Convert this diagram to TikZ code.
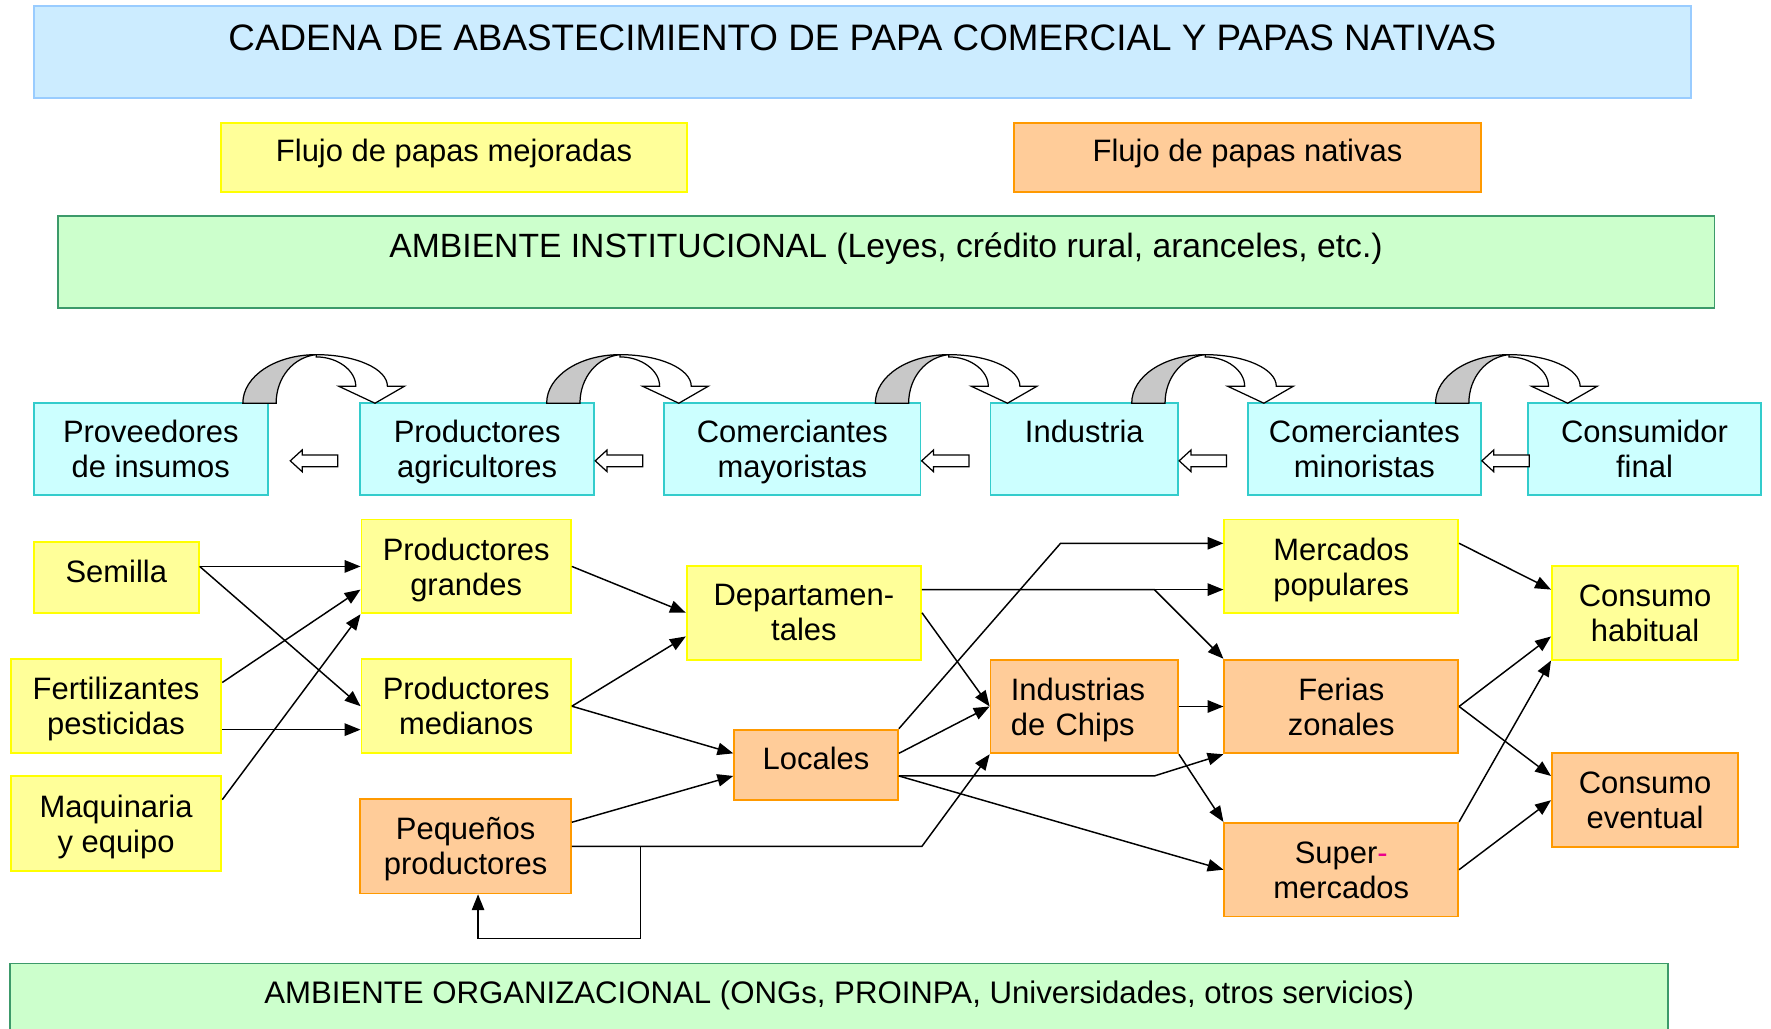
\documentclass[tikz,border=0pt]{standalone}
\usepackage{fontspec}
\setmainfont{Liberation Sans}
\usetikzlibrary{arrows.meta}
\definecolor{celeste}{HTML}{CCECFF}
\definecolor{celesteborde}{HTML}{99CCFF}
\definecolor{amarillofondo}{HTML}{FFFF99}
\definecolor{amarilloborde}{HTML}{FFFF00}
\definecolor{naranjafondo}{HTML}{FFCC99}
\definecolor{naranjaborde}{HTML}{FF9900}
\definecolor{verdefondo}{HTML}{CCFFCC}
\definecolor{verdeborde}{HTML}{3C9A6A}
\definecolor{cianfondo}{HTML}{CCFFFF}
\definecolor{cianborde}{HTML}{33CCCC}
\definecolor{gris}{HTML}{C8C8C8}

\begin{document}
\begin{tikzpicture}[x=1pt, y=-1pt]
        \tikzstyle{every node}=[rectangle, inner sep=0pt, align=center, font=\fontsize{27.4}{31}\selectfont]
        \tikzstyle{amarillo}=[draw=amarilloborde, fill=amarillofondo, line width=1.6pt, text depth=0pt]
        \tikzstyle{naranja}=[draw=naranjaborde, fill=naranjafondo, line width=1.6pt, text depth=0pt]
        \tikzstyle{cian}=[draw=cianborde, fill=cianfondo, line width=1.6pt, minimum height=81pt, text depth=0pt]
        \tikzstyle{verde}=[draw=verdeborde, fill=verdefondo, line width=1.6pt, minimum height=82pt]
        \tikzstyle{unalinea}=[text depth=12pt]
        \tikzstyle{flujo}=[line width=1.3pt, -{Triangle[length=14pt, width=11pt]}]
        \tikzstyle{hueca}=[draw=black, fill=white, line width=1.1pt]
        \clip (0,0) rectangle (1568,911);
        % cabecera
        \node [draw=celesteborde, fill=celeste, line width=1.6pt, minimum width=1467pt, minimum height=82pt, label={[anchor=center, yshift=-29pt, font=\fontsize{32.6}{36}\selectfont]north:{CADENA DE ABASTECIMIENTO DE PAPA COMERCIAL Y PAPAS NATIVAS}}] (titulo) at (763.5,46) {};
        \node [amarillo, minimum width=412pt, minimum height=61pt, label={[anchor=center, yshift=-28pt]north:{Flujo de papas mejoradas}}] (mejoradas) at (402,139.5) {};
        \node [naranja, minimum width=413pt, minimum height=61pt, label={[anchor=center, yshift=-28pt]north:{Flujo de papas nativas}}] (nativas) at (1104.5,139.5) {};
        \node [verde, minimum width=1467pt, label={[anchor=center, yshift=-30pt, font=\fontsize{29.8}{34}\selectfont]north:{AMBIENTE INSTITUCIONAL (Leyes, crédito rural, aranceles, etc.)}}] (institucional) at (784.5,232) {};
        \node [verde, minimum width=1468pt, label={[anchor=center, yshift=-29pt, font=\fontsize{27.6}{31}\selectfont]north:{AMBIENTE ORGANIZACIONAL (ONGs, PROINPA, Universidades, otros servicios)}}] (organizacional) at (743,894) {};
        % eslabones
        \node [cian, minimum width=207pt] (proveedores) at (133.5,397.5) {Proveedores\\de insumos};
        \node [cian, minimum width=207pt] (agricultores) at (422.5,397.5) {Productores\\agricultores};
        \node [cian, minimum width=227pt] (mayoristas) at (701.5,397.5) {Comerciantes\\mayoristas};
        \node [cian, minimum width=166pt] (industria) at (960,397.5) {Industria\\~};
        \node [cian, minimum width=206pt] (minoristas) at (1208,397.5) {Comerciantes\\minoristas};
        \node [cian, minimum width=206pt] (consumidor) at (1456,397.5) {Consumidor\\final};
        \foreach \b in {215,484,775,1002,1271}
        {
            \draw [hueca, fill=gris] (\b,357) .. controls (\b,333) and (\b+29,314) .. (\b+65,314) .. controls (\b+45,316) and (\b+29.5,334) .. (\b+29.5,357) -- cycle;
            \draw [hueca] (\b+65,314) .. controls (\b+100,314) and (\b+128,326.5) .. (\b+128,342) -- (\b+143,342) -- (\b+117,357) -- (\b+85,342) -- (\b+100,342) .. controls (\b+100,328) and (\b+84,316) .. (\b+65,316) -- cycle;
        }
        \foreach \t in {257,527,816,1044,1312}
            \draw [hueca] (\t,408) -- (\t+10.5,398.4) -- (\t+10.5,402.8) -- (\t+42,402.8) -- (\t+42,413.2) -- (\t+10.5,413.2) -- (\t+10.5,417.6) -- cycle;
        % flujo de la papa
        \node [amarillo, unalinea, minimum width=146pt, minimum height=63pt] (semilla) at (103,511.5) {Semilla};
        \node [amarillo, minimum width=186.5pt, minimum height=83.5pt] (fertilizantes) at (102.75,625.25) {Fertilizantes\\pesticidas};
        \node [amarillo, minimum width=186.5pt, minimum height=84pt] (maquinaria) at (102.75,729) {Maquinaria\\y equipo};
        \node [amarillo, minimum width=185.5pt, minimum height=83pt] (pgrandes) at (412.75,501.5) {Productores\\grandes};
        \node [amarillo, minimum width=185.5pt, minimum height=83.5pt] (pmedianos) at (412.75,625.25) {Productores\\medianos};
        \node [naranja, minimum width=186.5pt, minimum height=83.5pt] (pequenos) at (412.25,749.25) {Pequeños\\productores};
        \node [amarillo, minimum width=207.5pt, minimum height=83pt] (departamentales) at (711.75,542.5) {Departamen-\\tales};
        \node [naranja, unalinea, minimum width=145pt, minimum height=62pt] (locales) at (722.5,677) {Locales};
        \node [naranja, minimum width=166pt, minimum height=83pt, text width=130pt, align=left, text depth=31pt] (chips) at (960,625.5) {Industrias\\de Chips};
        \node [amarillo, minimum width=207pt, minimum height=83pt] (mercados) at (1187.5,501.5) {Mercados\\populares};
        \node [naranja, minimum width=207pt, minimum height=83pt] (ferias) at (1187.5,625.5) {Ferias\\zonales};
        \node [naranja, minimum width=207pt, minimum height=83pt] (supermercados) at (1187.5,770) {Super{\color{magenta}-}\\mercados};
        \node [amarillo, minimum width=165pt, minimum height=83pt] (habitual) at (1456.5,542.5) {Consumo\\habitual};
        \node [naranja, minimum width=165pt, minimum height=83pt] (eventual) at (1456.5,708.5) {Consumo\\eventual};
        \coordinate (retorno) at (567,831);
        \coordinate (cruce) at (1022,522);
        \coordinate (quiebre) at (939,481);
        \coordinate (salida) at ([yshift=-10pt]locales.east);
        \draw [flujo] ([yshift=10pt]semilla.east) -- (pgrandes.west);
        \draw [flujo] ([yshift=10pt]semilla.east) -- (pmedianos.west);
        \draw [flujo] ([yshift=21pt]fertilizantes.east) -- ([yshift=-20.5pt]pgrandes.west);
        \draw [flujo] ([yshift=-20.75pt]fertilizantes.east) -- ([yshift=-20.75pt]pmedianos.west);
        \draw [flujo] ([yshift=21pt]maquinaria.east) -- (pgrandes.south west);
        \draw [flujo] (pgrandes.east) -- (departamentales.west);
        \draw [flujo] (pmedianos.east) -- ([yshift=-21pt]departamentales.west);
        \draw [flujo] (pmedianos.east) -- ([yshift=10pt]locales.west);
        \draw [flujo] ([yshift=21.25pt]pequenos.east) -- ([yshift=-10pt]locales.west);
        \draw [flujo] (pequenos.east) -- (pequenos.east -| departamentales.east) -- (chips.south west);
        \draw [flujo] (pequenos.east) -| (retorno) -| ([xshift=11pt]pequenos.south);
        \draw [flujo] ([yshift=20.5pt]departamentales.east) -- (cruce -| mercados.west);
        \draw [flujo] ([yshift=20.5pt]departamentales.east) -- (cruce) -- (ferias.north west);
        \draw [flujo] (departamentales.east) -- (chips.west);
        \draw [flujo] (locales.north east) -- (quiebre) -- (quiebre -| mercados.west);
        \draw [flujo] ([yshift=10pt]locales.east) -- (chips.west);
        \draw [flujo] (salida) -- (salida -| cruce) -- (ferias.south west);
        \draw [flujo] (salida) -- (supermercados.west);
        \draw [flujo] (chips.east) -- (ferias.west);
        \draw [flujo] (chips.south east) -- (supermercados.north west);
        \draw [flujo] ([yshift=20.5pt]mercados.east) -- ([yshift=20.5pt]habitual.west);
        \draw [flujo] (ferias.east) -- ([yshift=-21pt]habitual.west);
        \draw [flujo] (ferias.east) -- ([yshift=21.5pt]eventual.west);
        \draw [flujo] (supermercados.north east) -- (habitual.south west);
        \draw [flujo] (supermercados.east) -- (eventual.west);
    \end{tikzpicture}
\end{document}
